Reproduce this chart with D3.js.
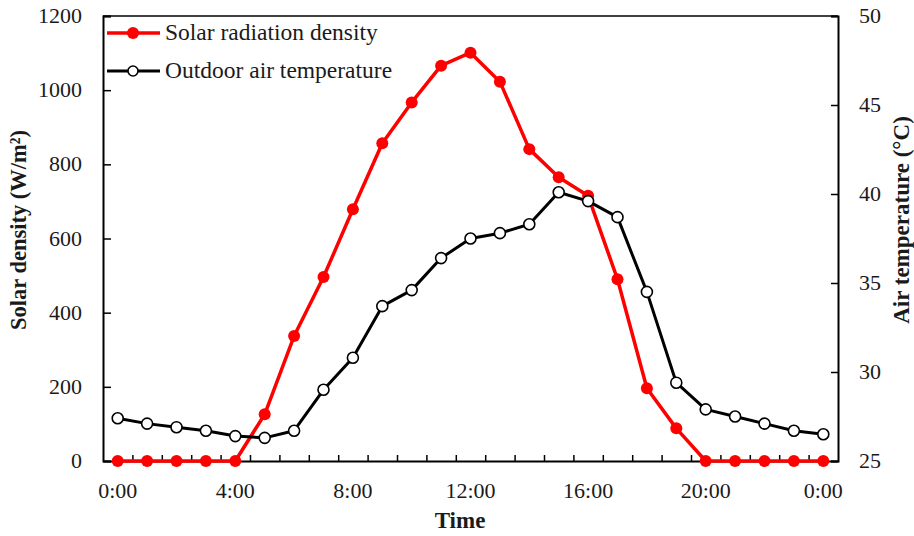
<!DOCTYPE html>
<html>
<head>
<meta charset="utf-8">
<script src="https://cdn.jsdelivr.net/npm/d3@7"></script>
<style>
  body { margin: 0; background: #fff; }
  svg text { font-family: "Liberation Serif", "Times New Roman", serif; fill: #1a1a1a; }
</style>
</head>
<body>
<script>
// hours of the day, 0..24
const hours = d3.range(0, 25)
const hourLabels = ['0:00', '4:00', '8:00', '12:00', '16:00', '20:00', '0:00']
// solar radiation density (W/m2)
const solar = [0, 0, 0, 0, 0, 126, 337, 496, 679, 857, 967, 1066, 1101, 1023, 841, 765, 715, 490, 196, 88, 0, 0, 0, 0, 0]
// outdoor air temperature (°C)
const temp = [27.4, 27.1, 26.9, 26.7, 26.4, 26.3, 26.7, 29.0, 30.8, 33.7, 34.6, 36.4, 37.5, 37.8, 38.3, 40.1, 39.6, 38.7, 34.5, 29.4, 27.9, 27.5, 27.1, 26.7, 26.5]
const solarTicks = [0, 200, 400, 600, 800, 1000, 1200]
const tempTicks = [25, 30, 35, 40, 45, 50]

const width = 914, height = 536
const margin = { left: 103, right: 76, top: 16, bottom: 75 }

const svg = d3.select('body').append('svg')
  .attr('width', width).attr('height', height)

const x = d3.scaleLinear().domain([-0.5, 24.5]).range([margin.left, width - margin.right])
const yL = d3.scaleLinear().domain([0, 1200]).range([height - margin.bottom, margin.top])
const yR = d3.scaleLinear().domain([25, 50]).range([height - margin.bottom, margin.top])

// top border
svg.append('line')
  .attr('x1', x.range()[0]).attr('x2', x.range()[1])
  .attr('y1', margin.top).attr('y2', margin.top)
  .attr('stroke', '#000').attr('stroke-width', 1.5)

// left axis, ticks pointing inward
const leftAxis = svg.append('g')
  .attr('transform', `translate(${margin.left},0)`)
  .call(d3.axisRight(yL).tickValues(solarTicks).tickSize(8).tickFormat(''))
leftAxis.select('.domain').attr('stroke-width', 2)
leftAxis.selectAll('.tick line').attr('stroke-width', 1.5)
svg.append('g').selectAll('text').data(solarTicks).join('text')
  .attr('x', 82).attr('y', d => yL(d) + 7)
  .attr('text-anchor', 'end').attr('font-size', 22)
  .text(d => d)

// right axis, ticks pointing inward
const rightAxis = svg.append('g')
  .attr('transform', `translate(${width - margin.right},0)`)
  .call(d3.axisLeft(yR).tickValues(tempTicks).tickSize(7).tickFormat(''))
rightAxis.select('.domain').attr('stroke-width', 2)
rightAxis.selectAll('.tick line').attr('stroke-width', 1.5)
svg.append('g').selectAll('text').data(tempTicks).join('text')
  .attr('x', 859).attr('y', d => yR(d) + 7)
  .attr('text-anchor', 'start').attr('font-size', 22)
  .text(d => d)

// bottom axis: ticks between categories, labels every 4 hours
const bottomAxis = svg.append('g')
  .attr('transform', `translate(0,${height - margin.bottom})`)
  .call(d3.axisTop(x).tickValues(d3.range(0.5, 24, 1)).tickSize(6).tickFormat('').tickSizeOuter(0))
bottomAxis.select('.domain').attr('stroke-width', 2)
bottomAxis.selectAll('.tick line').attr('stroke-width', 1.5)
svg.append('g').selectAll('text').data(hourLabels).join('text')
  .attr('x', (d, i) => x(i * 4)).attr('y', 498)
  .attr('text-anchor', 'middle').attr('font-size', 22)
  .text(d => d)

// axis titles
svg.append('text')
  .attr('transform', `translate(26,230) rotate(-90)`)
  .attr('text-anchor', 'middle').attr('font-size', 22.5).attr('font-weight', 'bold')
  .text('Solar density (W/m²)')
svg.append('text')
  .attr('transform', `translate(909,220) rotate(-90)`)
  .attr('text-anchor', 'middle').attr('font-size', 23).attr('font-weight', 'bold')
  .text('Air temperature (°C)')
svg.append('text')
  .attr('x', 460).attr('y', 528)
  .attr('text-anchor', 'middle').attr('font-size', 23).attr('font-weight', 'bold')
  .text('Time')

// series
const solarLine = d3.line().x((d, i) => x(hours[i])).y(d => yL(d))
const tempLine = d3.line().x((d, i) => x(hours[i])).y(d => yR(d))

svg.append('path').datum(solar)
  .attr('d', solarLine).attr('fill', 'none')
  .attr('stroke', '#ff0000').attr('stroke-width', 3.5).attr('stroke-linejoin', 'round')
svg.append('g').selectAll('circle').data(solar).join('circle')
  .attr('cx', (d, i) => x(hours[i])).attr('cy', d => yL(d))
  .attr('r', 6).attr('fill', '#ff0000')

svg.append('path').datum(temp)
  .attr('d', tempLine).attr('fill', 'none')
  .attr('stroke', '#000').attr('stroke-width', 3).attr('stroke-linejoin', 'round')
svg.append('g').selectAll('circle').data(temp).join('circle')
  .attr('cx', (d, i) => x(hours[i])).attr('cy', d => yR(d))
  .attr('r', 5.5).attr('fill', '#fff').attr('stroke', '#000').attr('stroke-width', 1.6)

// legend
const legend = svg.append('g')
const legendItems = [
  { label: 'Solar radiation density', color: '#ff0000', filled: true, y: 33 },
  { label: 'Outdoor air temperature', color: '#000', filled: false, y: 71 }
]
legendItems.forEach(item => {
  legend.append('line')
    .attr('x1', 107).attr('x2', 160).attr('y1', item.y).attr('y2', item.y)
    .attr('stroke', item.color).attr('stroke-width', item.filled ? 3.5 : 3)
  legend.append('circle')
    .attr('cx', 133).attr('cy', item.y).attr('r', item.filled ? 6 : 5)
    .attr('fill', item.filled ? item.color : '#fff')
    .attr('stroke', item.filled ? 'none' : '#000').attr('stroke-width', 1.6)
  legend.append('text')
    .attr('x', 165).attr('y', item.y + 7).attr('font-size', 23.5)
    .text(item.label)
})
</script>
</body>
</html>
